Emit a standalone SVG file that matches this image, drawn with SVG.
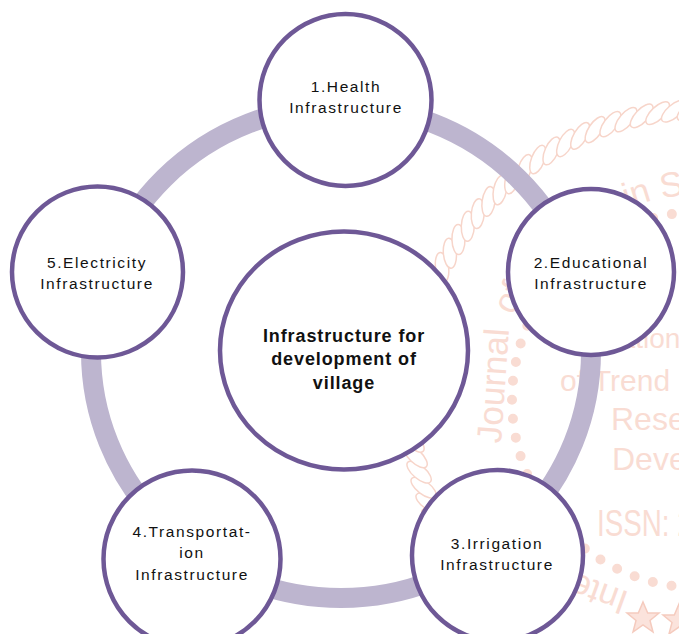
<svg xmlns="http://www.w3.org/2000/svg" xmlns:xlink="http://www.w3.org/1999/xlink" width="679" height="634" viewBox="0 0 679 634">
<style>
.wm{fill:#f9dcd3;font-family:"Liberation Sans",Arial,sans-serif}
.node{fill:#ffffff;stroke:#6e5896;stroke-width:4.5}
.lbl{font-family:"Liberation Sans",Arial,sans-serif;font-size:15.5px;letter-spacing:1.6px;fill:#111111;text-anchor:middle}
.ctr{font-family:"Liberation Sans",Arial,sans-serif;font-size:18px;font-weight:bold;letter-spacing:0.9px;fill:#111111;text-anchor:middle}
</style>
<defs>
<ellipse id="strand" cx="990" cy="400" rx="15" ry="6.5" transform="rotate(55 990 400)" fill="#ffffff" stroke="#f7d5ca" stroke-width="1.5"/>
<polygon id="star" points="0,-16 4.7,-5 16,-5 7,2.5 10,14 0,7 -10,14 -7,2.5 -16,-5 -4.7,-5" fill="#fbe3dc" stroke="#f5cbbe" stroke-width="1.5"/>
</defs>
<rect width="679" height="634" fill="#ffffff"/>
<g id="watermark">
<g id="rope">
<use xlink:href="#strand" transform="rotate(140 700 400)"/>
<use xlink:href="#strand" transform="rotate(143.2 700 400)"/>
<use xlink:href="#strand" transform="rotate(146.4 700 400)"/>
<use xlink:href="#strand" transform="rotate(149.6 700 400)"/>
<use xlink:href="#strand" transform="rotate(152.8 700 400)"/>
<use xlink:href="#strand" transform="rotate(156 700 400)"/>
<use xlink:href="#strand" transform="rotate(159.2 700 400)"/>
<use xlink:href="#strand" transform="rotate(162.4 700 400)"/>
<use xlink:href="#strand" transform="rotate(165.6 700 400)"/>
<use xlink:href="#strand" transform="rotate(168.8 700 400)"/>
<use xlink:href="#strand" transform="rotate(172 700 400)"/>
<use xlink:href="#strand" transform="rotate(175.2 700 400)"/>
<use xlink:href="#strand" transform="rotate(178.4 700 400)"/>
<use xlink:href="#strand" transform="rotate(181.6 700 400)"/>
<use xlink:href="#strand" transform="rotate(184.8 700 400)"/>
<use xlink:href="#strand" transform="rotate(188 700 400)"/>
<use xlink:href="#strand" transform="rotate(191.2 700 400)"/>
<use xlink:href="#strand" transform="rotate(194.4 700 400)"/>
<use xlink:href="#strand" transform="rotate(197.6 700 400)"/>
<use xlink:href="#strand" transform="rotate(200.8 700 400)"/>
<use xlink:href="#strand" transform="rotate(204 700 400)"/>
<use xlink:href="#strand" transform="rotate(207.2 700 400)"/>
<use xlink:href="#strand" transform="rotate(210.4 700 400)"/>
<use xlink:href="#strand" transform="rotate(213.6 700 400)"/>
<use xlink:href="#strand" transform="rotate(216.8 700 400)"/>
<use xlink:href="#strand" transform="rotate(220 700 400)"/>
<use xlink:href="#strand" transform="rotate(223.2 700 400)"/>
<use xlink:href="#strand" transform="rotate(226.4 700 400)"/>
<use xlink:href="#strand" transform="rotate(229.6 700 400)"/>
<use xlink:href="#strand" transform="rotate(232.8 700 400)"/>
<use xlink:href="#strand" transform="rotate(236 700 400)"/>
<use xlink:href="#strand" transform="rotate(239.2 700 400)"/>
<use xlink:href="#strand" transform="rotate(242.4 700 400)"/>
<use xlink:href="#strand" transform="rotate(245.6 700 400)"/>
<use xlink:href="#strand" transform="rotate(248.8 700 400)"/>
<use xlink:href="#strand" transform="rotate(252 700 400)"/>
<use xlink:href="#strand" transform="rotate(255.2 700 400)"/>
<use xlink:href="#strand" transform="rotate(258.4 700 400)"/>
<use xlink:href="#strand" transform="rotate(261.6 700 400)"/>
<use xlink:href="#strand" transform="rotate(264.8 700 400)"/>
<use xlink:href="#strand" transform="rotate(268 700 400)"/>
<use xlink:href="#strand" transform="rotate(271.2 700 400)"/>
<use xlink:href="#strand" transform="rotate(274.4 700 400)"/>
<use xlink:href="#strand" transform="rotate(277.6 700 400)"/>
</g>
<circle cx="700" cy="400" r="188" fill="none" stroke="#f9dcd3" stroke-width="10" stroke-linecap="round" stroke-dasharray="0 19.05"/>
<text class="wm" font-size="35" transform="translate(630 592.6) rotate(-160)">International</text>
<text class="wm" font-size="35" text-anchor="middle" transform="translate(505 386.4) rotate(-86)">Journal</text>
<text class="wm" font-size="35" text-anchor="middle" transform="translate(519.3 303.1) rotate(-61.8)">of</text>
<text class="wm" font-size="35" text-anchor="middle" transform="translate(639.4 204.2) rotate(-17.2)">in</text>
<text class="wm" font-size="35" transform="translate(661.9 198.6) rotate(-10.7)">Scientific</text>
<text class="wm" x="548" y="348" font-size="28">International</text>
<text class="wm" x="560" y="391" font-size="30">of Trend</text>
<text class="wm" x="611" y="430" font-size="32">Research</text>
<text class="wm" x="612" y="470" font-size="32">Development</text>
<text class="wm" font-size="37" transform="translate(597 536) scale(0.75 1)">ISSN: 2456-6470</text>
<use xlink:href="#star" transform="translate(643 618)"/>
<use xlink:href="#star" transform="translate(679 620)"/>
</g>
<g id="connectors">
<ellipse cx="341" cy="352" rx="250" ry="246" fill="none" stroke="#bdb5cf" stroke-width="20"/>
</g>
<g id="node-center">
<ellipse class="node" cx="344" cy="350.5" rx="124" ry="119"/>
<text class="ctr" x="344" y="342">Infrastructure for</text>
<text class="ctr" x="344" y="365">development of</text>
<text class="ctr" x="344" y="389">village</text>
</g>
<g id="node-1">
<circle class="node" cx="345.5" cy="100" r="86"/>
<text class="lbl" x="346" y="92">1.Health</text>
<text class="lbl" x="346" y="113">Infrastructure</text>
</g>
<g id="node-2">
<circle class="node" cx="591" cy="272" r="83"/>
<text class="lbl" x="591" y="268">2.Educational</text>
<text class="lbl" x="591" y="289">Infrastructure</text>
</g>
<g id="node-3">
<circle class="node" cx="497.5" cy="555.5" r="85.5"/>
<text class="lbl" x="497" y="549">3.Irrigation</text>
<text class="lbl" x="497" y="570">Infrastructure</text>
</g>
<g id="node-4">
<circle class="node" cx="192" cy="559" r="88.5"/>
<text class="lbl" x="192" y="537">4.Transportat-</text>
<text class="lbl" x="192" y="558">ion</text>
<text class="lbl" x="192" y="580">Infrastructure</text>
</g>
<g id="node-5">
<circle class="node" cx="97.5" cy="272" r="85.5"/>
<text class="lbl" x="97" y="268">5.Electricity</text>
<text class="lbl" x="97" y="289">Infrastructure</text>
</g>
</svg>
